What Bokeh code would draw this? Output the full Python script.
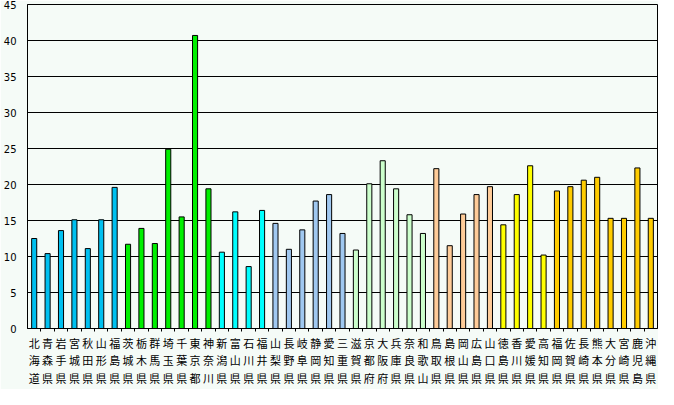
from bokeh.plotting import figure
from bokeh.models import FixedTicker, ColumnDataSource, Range1d
from bokeh.embed import file_html
from bokeh.resources import INLINE

prefectures = ["北海道", "青森県", "岩手県", "宮城県", "秋田県", "山形県", "福島県",
               "茨城県", "栃木県", "群馬県", "埼玉県", "千葉県", "東京都", "神奈川",
               "新潟県", "富山県", "石川県", "福井県",
               "山梨県", "長野県", "岐阜県", "静岡県", "愛知県", "三重県",
               "滋賀県", "京都府", "大阪府", "兵庫県", "奈良県", "和歌山",
               "鳥取県", "島根県", "岡山県", "広島県", "山口県",
               "徳島県", "香川県", "愛媛県", "高知県",
               "福岡県", "佐賀県", "長崎県", "熊本県", "大分県", "宮崎県", "鹿児島", "沖縄県"]
values = [12.5, 10.4, 13.6, 15.1, 11.1, 15.1, 19.6,
          11.7, 13.9, 11.8, 24.9, 15.5, 40.7, 19.4,
          10.6, 16.2, 8.6, 16.4,
          14.6, 11.0, 13.7, 17.7, 18.6, 13.2,
          10.9, 20.1, 23.3, 19.4, 15.8, 13.2,
          22.2, 11.5, 15.9, 18.6, 19.7,
          14.4, 18.6, 22.6, 10.2,
          19.1, 19.7, 20.6, 21.0, 15.3, 15.3, 22.3, 15.3]
region_colors = ["#00C0F0", "#00F000", "#00FFFF", "#A0C8F0", "#CCFFCC", "#FFCC99", "#FFFF00", "#FFCC00"]
region_sizes = [7, 7, 4, 6, 6, 5, 4, 8]
y_ticks = [0, 5, 10, 15, 20, 25, 30, 35, 40, 45]

colors = []
for c, n in zip(region_colors, region_sizes):
    colors += [c] * n
xs = list(range(len(prefectures)))

src = ColumnDataSource(dict(x=xs, top=values, color=colors))

p = figure(width=658, height=389, output_backend="svg", toolbar_location=None,
           x_range=Range1d(-0.5, len(prefectures) - 0.5), y_range=Range1d(0, 45),
           min_border_left=2, min_border_right=1, min_border_top=4, min_border_bottom=0)
p.background_fill_color = "#F5FBF7"
p.border_fill_color = "#F5FBF7"
p.outline_line_color = "black"
p.outline_line_width = 1

p.vbar(x="x", top="top", width=0.38, bottom=0, fill_color="color", line_color="black",
       line_width=1, source=src)

p.xgrid.grid_line_color = None
p.ygrid.grid_line_color = "black"
p.ygrid.grid_line_width = 1
p.ygrid.ticker = FixedTicker(ticks=y_ticks)

p.yaxis.ticker = FixedTicker(ticks=y_ticks)
p.yaxis.major_tick_line_color = None
p.yaxis.minor_tick_line_color = None
p.yaxis.axis_line_color = "black"
p.yaxis.major_label_text_font = "DejaVu Sans"
p.yaxis.major_label_text_font_size = "10px"
p.yaxis.major_label_text_color = "black"
p.yaxis.major_label_standoff = 5

p.xaxis.ticker = FixedTicker(ticks=xs, minor_ticks=[x + 0.5 for x in xs[:-1]])
p.xaxis.major_label_overrides = {i: "\n".join(list(n)) for i, n in enumerate(prefectures)}
p.xaxis.major_tick_line_color = None
p.xaxis.major_tick_out = 0
p.xaxis.major_tick_in = 0
p.xaxis.minor_tick_line_color = "black"
p.xaxis.minor_tick_out = 3
p.xaxis.minor_tick_in = 0
p.xaxis.axis_line_color = "black"
p.xaxis.major_label_text_font = "Noto Sans CJK JP"
p.xaxis.major_label_text_font_size = "11px"
p.xaxis.major_label_text_line_height = 1.12
p.xaxis.major_label_text_color = "black"
p.xaxis.major_label_standoff = 3

open("out.html", "w").write(file_html(p, INLINE))
